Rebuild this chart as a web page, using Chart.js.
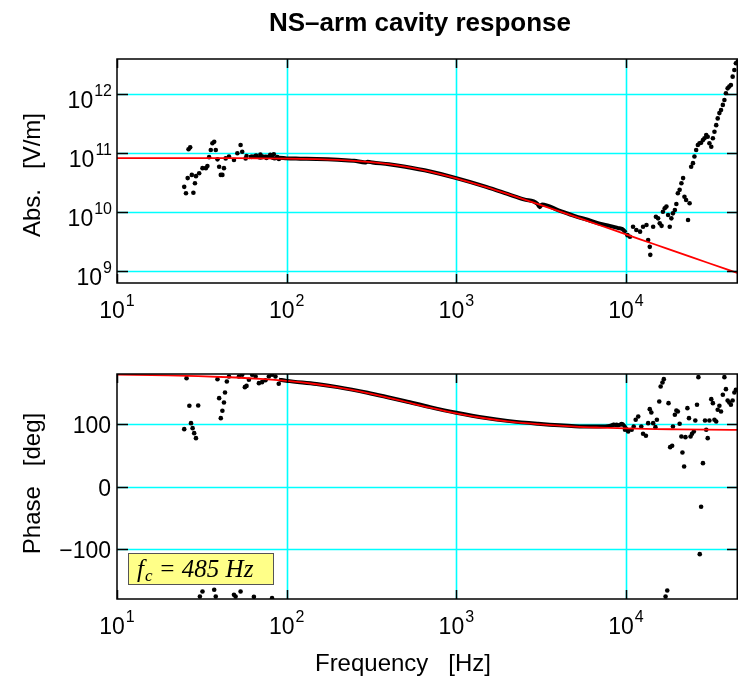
<!DOCTYPE html>
<html lang="en">
<head>
<meta charset="UTF-8">
<title>NS-arm cavity response</title>
<script src="https://cdn.jsdelivr.net/npm/chart.js"></script>
<style>
  body, html { margin: 0; padding: 0; width: 742px; height: 679px; overflow: hidden; background: #fff; }
  canvas { position: absolute; left: 0; }
  #absChart { top: 0; }
  #phaseChart { top: 335px; }
</style>
</head>
<body>
<canvas id="absChart" width="742" height="335"></canvas>
<canvas id="phaseChart" width="742" height="344"></canvas>
<script>
// fitted cavity pole (red)
const fitFreq  = [10, 20, 30, 50, 70, 100, 150, 200, 300, 400, 500, 700, 1000, 1500, 2000, 3000, 5000, 7000, 10000, 15000, 20000, 30000, 45700];
const fitAbs   = [8.3e10, 8.29e10, 8.28e10, 8.26e10, 8.22e10, 8.14e10, 7.96e10, 7.73e10, 7.15e10, 6.53e10, 5.93e10, 4.89e10, 3.77e10, 2.67e10, 2.05e10, 1.39e10, 8.43e9, 6.03e9, 4.23e9, 2.82e9, 2.12e9, 1.41e9, 9.3e8];
const fitPhase = [178.9, 177.8, 176.6, 174.4, 172.2, 168.9, 163.6, 158.6, 149.5, 141.9, 135.6, 126.1, 117.0, 108.8, 104.3, 99.8, 95.8, 94.2, 92.9, 91.9, 91.5, 91.0, 90.6];

// measured, dense part (looks like a thick black line)
const measFreq = [60, 65, 70, 75, 80, 85, 90, 100, 120, 150, 200, 250, 290, 300, 320, 400, 500, 700, 1000, 1500, 2000, 2500, 3000, 3100, 3200, 4000, 5000, 6000, 7000, 8000, 9000, 9500, 10000];
const measAbs  = [8.6e10, 8.9e10, 8.4e10, 8.8e10, 8.7e10, 8.2e10, 8.4e10, 8.2e10, 8.1e10, 8.0e10, 7.75e10, 7.45e10, 7.0e10, 7.2e10, 7.0e10, 6.5e10, 5.9e10, 4.9e10, 3.8e10, 2.7e10, 2.05e10, 1.65e10, 1.4e10, 1.22e10, 1.36e10, 1.08e10, 8.6e9, 7.4e9, 6.4e9, 5.9e9, 5.4e9, 5.2e9, 4.5e9];
const measPhaseFreq = [90, 100, 150, 200, 300, 400, 500, 700, 1000, 1500, 2000, 3000, 5000, 7000, 8000, 8500, 9000, 9500, 10000, 10500];
const measPhase     = [171, 169, 164, 159, 150, 142.5, 136.5, 127, 118, 109.5, 105, 100.5, 96.5, 96, 97, 99, 98, 100, 93, 89];

// measured, scattered points
const absDotFreq = [24.9, 25.5, 26.1, 26.4, 27.0, 27.6, 28.2, 28.8, 29.2, 30.5, 31.9, 33.4, 34.1, 34.9, 35.7, 36.5, 37.4, 38.2, 39.1, 40.0, 40.9, 41.8, 42.7, 43.7, 45.7, 48.9, 51.2, 53.5, 54.7, 57.3,
  58, 62, 66, 70, 72, 76, 80, 84, 88, 90,
  10200, 10550, 11000, 11500, 12100, 12600, 13200, 13500, 13800, 13900, 14450, 15000, 15450, 15800, 16200, 16500, 16900, 17300, 17700, 18100, 18500, 18900, 19400, 19800,
  20200, 20700, 21200, 21700, 22100, 22600, 23200, 23700, 24200, 24800, 25300, 25900, 26500, 27100, 27700, 28400, 29000, 29700, 30300, 31000, 31800, 32500, 33200, 34000,
  34700, 35500, 36300, 37200, 38000, 38800, 39700, 40600, 41500, 42500, 43500, 44400, 45500];
const absDotVals = [2.7e10, 2.1e10, 3.8e10, 1.17e11, 1.26e11, 4.3e10, 2.15e10, 3.1e10, 4.1e10, 4.6e10, 5.6e10, 5.6e10, 6.1e10, 8.6e10, 1.14e11, 1.48e11, 1.57e11, 1.14e11, 7.9e10, 5.9e10, 4.3e10, 4.3e10, 5.6e10, 8.2e10, 8.8e10, 7.7e10, 1.0e11, 1.38e11, 1.06e11, 8.2e10,
  9.0e10, 8.7e10, 9.2e10, 9.5e10, 8.8e10, 8.3e10, 9.4e10, 9.6e10, 8.6e10, 8.0e10,
  4.1e9, 3.86e9, 5.7e9, 5.0e9, 4.7e9, 5.7e9, 6.1e9, 3.4e9, 2.6e9, 1.9e9, 5.7e9, 8.4e9, 7.9e9, 6.5e9, 5.9e9, 1.02e10, 1.17e10, 1.25e10, 9.0e9, 5.7e9, 7.9e9, 9.6e9, 1.09e10, 1.38e10,
  2.1e10, 2.4e10, 3.1e10, 3.8e10, 1.84e10, 1.62e10, 7.4e9, 1.42e10, 5.9e10, 6.8e10, 8.8e10, 1.14e11, 1.38e11, 1.48e11, 1.51e11, 1.68e11, 1.8e11, 2.04e11, 1.91e11, 1.48e11, 1.29e11, 1.8e11, 2.32e11, 3.0e11,
  3.9e11, 4.8e11, 5.4e11, 6.6e11, 8.0e11, 1.04e12, 1.26e12, 1.35e12, 1.44e12, 1.99e12, 2.58e12, 3.35e12, 3.57e12];

const phaseDotFreq = [24.9, 25.7, 26.7, 27.3, 27.9, 28.5, 29.2, 30.1, 30.8, 31.9, 37.4, 38.2, 39.1, 40.0, 40.9, 41.8, 42.7, 43.3, 44.4, 45.7, 48.9, 50.0, 52.3, 53.5, 54.7, 56.7, 58.0, 59.9, 62.6, 64.1, 65.6, 68.6, 71.6, 75.0, 78.5, 82.0, 82.0, 85.9, 89.8,
  8430, 8810, 9420, 9860, 10300, 10800, 11100, 11400, 11800, 12300, 12600, 13100, 13500, 13800, 14100, 14450, 14900, 15200, 15700, 16000, 16400, 16700, 17100, 17500, 17800, 18200, 18700, 18900, 19400, 19800,
  20200, 20700, 21200, 21500, 22000, 22400, 23000, 23500, 24000, 24500, 25100, 25600, 26200, 26700, 27200, 27700, 28400, 29200, 29700, 30300, 31000, 31800, 32500, 33200, 34000, 34700, 35500,
  36300, 37200, 38000, 38800, 39700, 40600, 41500, 42500, 43500, 44400];
const phaseDotVals = [91.8, 173.4, 129.1, 101.4, 93.4, 85.4, 77.4, 129.6, -176, -168, -165.3, -176, 171.8, 141.4, 109.4, 121.1, 134.4, 150.4, 168, 176, -173.3, -176, 176, -168, 178.7, 159, 161, 170.7, 178.7, -176.5, 176, 165.4, 167, 170, 176, 178.7, -178.6, 176, 164.3,
  98.7, 98.7, 99.8, 90.7, 88, 90.7, 96, 106.7, 112, 96, 84.3, 81.1, 101.4, 123.8, 118.4, 101.4, 95, 106.7, 136, 160, 166.4, 171.8, -176, -166.4, 133.4, 63, 65.1, 96, 114.7, 121.6,
  120, 100.3, 80, 54.4, 32, 79, 125.4, 109.4, 80, 84.3, 88, 105.6, 130.7, 175, -108.2, -32.5, 37.4, 105.6, 90.7, 77.4, 105.6, 139.8, 133.4, 106.7, 104, 122.7,
  129.1, 120, 146.7, 175, 155.8, 137.6, 134.4, 130.7, 137.6, 150.4, 154.7];

const xTicks = [10, 100, 1000, 10000];
const xMin = 10, xMax = 45700;
const absTicks = [1e9, 1e10, 1e11, 1e12];
const absMin = 6.34e8, absMax = 3.96e12;
const phaseTicks = [-100, 0, 100];
const phaseMin = -180, phaseMax = 180;

const titleText = 'NS\u2013arm cavity response';
const absLabel = 'Abs.   [V/m]';
const phaseLabel = 'Phase   [deg]';
const freqLabel = 'Frequency   [Hz]';

const SANS = '"Liberation Sans", Arial, Helvetica, sans-serif';
const SERIF = '"Liberation Serif", "Times New Roman", serif';

const pts = (xs, ys) => xs.map((x, i) => ({ x: x, y: ys[i] }));

// "10" with a raised exponent
function drawPow(ctx, exp, x, y, align) {
    ctx.font = '23px ' + SANS;
    const wb = ctx.measureText('10').width;
    ctx.font = '16px ' + SANS;
    const we = ctx.measureText(exp).width;
    const left = align === 'center' ? x - (wb + we + 1) / 2 : x - wb - we - 1;
    ctx.textAlign = 'left';
    ctx.textBaseline = 'alphabetic';
    ctx.font = '23px ' + SANS;
    ctx.fillText('10', left, y);
    ctx.font = '16px ' + SANS;
    ctx.fillText(exp, left + wb + 1, y - 12);
}

function framePlugin(kind) {
    const yt = kind === 'abs' ? absTicks : phaseTicks;
    return {
        id: 'frame_' + kind,
        // cyan grid under the data
        beforeDatasetsDraw(chart) {
            const ctx = chart.ctx;
            const a = chart.chartArea;
            ctx.save();
            ctx.strokeStyle = '#00ffff';
            ctx.lineWidth = 1.6;
            ctx.beginPath();
            xTicks.forEach(v => {
                const px = Math.round(chart.scales.x.getPixelForValue(v)) + 0.5;
                if (px > a.left + 2 && px < a.right - 2) { ctx.moveTo(px, a.top); ctx.lineTo(px, a.bottom); }
            });
            yt.forEach(v => {
                const py = Math.round(chart.scales.y.getPixelForValue(v)) + 0.5;
                ctx.moveTo(a.left, py); ctx.lineTo(a.right, py);
            });
            ctx.stroke();
            ctx.restore();
        },
        afterDraw(chart) {
            const ctx = chart.ctx;
            const a = chart.chartArea;
            const xs = chart.scales.x, ys = chart.scales.y;
            ctx.save();
            ctx.fillStyle = '#000';
            ctx.strokeStyle = '#000';
            ctx.lineWidth = 1.5;
            ctx.strokeRect(a.left, a.top, a.right - a.left - 0.75, a.bottom - a.top);
            // inward ticks
            ctx.beginPath();
            xTicks.forEach(v => {
                const px = Math.round(xs.getPixelForValue(v)) + 0.5;
                ctx.moveTo(px, a.bottom); ctx.lineTo(px, a.bottom - 9);
                ctx.moveTo(px, a.top); ctx.lineTo(px, a.top + 9);
            });
            yt.forEach(v => {
                const py = Math.round(ys.getPixelForValue(v)) + 0.5;
                ctx.moveTo(a.left, py); ctx.lineTo(a.left + 11, py);
                ctx.moveTo(a.right, py); ctx.lineTo(a.right - 11, py);
            });
            ctx.stroke();

            // x tick labels
            xTicks.forEach(v => {
                drawPow(ctx, String(Math.round(Math.log10(v))), xs.getPixelForValue(v), a.bottom + 35, 'center');
            });
            // y tick labels
            if (kind === 'abs') {
                absTicks.forEach(v => {
                    drawPow(ctx, String(Math.round(Math.log10(v))), a.left - 5, ys.getPixelForValue(v) + 14, 'right');
                });
            } else {
                ctx.font = '23px ' + SANS;
                ctx.textAlign = 'right';
                ctx.textBaseline = 'alphabetic';
                phaseTicks.forEach(v => {
                    const t = v < 0 ? '\u2212' + Math.abs(v) : String(v);
                    ctx.fillText(t, a.left - 6, ys.getPixelForValue(v) + 9);
                });
            }

            // axis titles
            ctx.font = '24px ' + SANS;
            ctx.textAlign = 'center';
            ctx.textBaseline = 'middle';
            ctx.save();
            ctx.translate(33, (a.top + a.bottom) / 2 + (kind === 'abs' ? 4 : -3));
            ctx.rotate(-Math.PI / 2);
            ctx.fillText(kind === 'abs' ? absLabel : phaseLabel, 0, 0);
            ctx.restore();

            if (kind === 'abs') {
                ctx.font = 'bold 26px ' + SANS;
                ctx.textBaseline = 'alphabetic';
                ctx.fillText(titleText, 420, 31);
            } else {
                ctx.textBaseline = 'alphabetic';
                ctx.fillText(freqLabel, 403, a.bottom + 72);

                // f_c annotation box
                const bx = a.left + 11, by = a.bottom - 46, bw = 145, bh = 31;
                ctx.fillStyle = '#ffff88';
                ctx.fillRect(bx, by, bw, bh);
                ctx.strokeStyle = '#555';
                ctx.lineWidth = 1;
                ctx.strokeRect(bx + 0.5, by + 0.5, bw, bh);
                ctx.fillStyle = '#000';
                ctx.textAlign = 'left';
                let tx = bx + 9;
                const base = by + 24;
                ctx.font = 'italic 25px ' + SERIF;
                ctx.fillText('f', tx, base);
                tx += ctx.measureText('f').width + 1;
                ctx.font = 'italic 17px ' + SERIF;
                ctx.fillText('c', tx, base + 4);
                tx += ctx.measureText('c').width;
                ctx.font = 'italic 25px ' + SERIF;
                ctx.fillText(' = 485 Hz', tx, base);
            }
            ctx.restore();
        }
    };
}

function baseOptions(yScale, padTop, xHeight) {
    return {
        responsive: false,
        maintainAspectRatio: false,
        animation: false,
        events: [],
        layout: { padding: { top: padTop, left: 0, right: 0, bottom: 0 } },
        plugins: { legend: { display: false }, tooltip: { enabled: false }, title: { display: false } },
        scales: {
            x: {
                type: 'logarithmic', min: xMin, max: xMax,
                afterBuildTicks: s => { s.ticks = xTicks.map(v => ({ value: v })); },
                afterFit: s => { s.height = xHeight; },
                ticks: { display: false },
                grid: { display: false },
                border: { display: false }
            },
            y: yScale
        }
    };
}

const lineDs = (data, color, width, order) => ({
    data: data, showLine: true, borderColor: color, borderWidth: width,
    pointRadius: 0, cubicInterpolationMode: 'monotone', order: order
});
const dotDs = (data, order) => ({
    data: data, showLine: false, pointRadius: 2.3, pointBorderWidth: 0,
    backgroundColor: '#000', borderColor: '#000', order: order
});

new Chart(document.getElementById('absChart'), {
    type: 'scatter',
    data: {
        datasets: [
            lineDs(pts(fitFreq, fitAbs), '#ff0000', 1.8, 0),
            lineDs(pts(measFreq, measAbs), '#000', 4, 1),
            dotDs(pts(absDotFreq, absDotVals), 2)
        ]
    },
    options: baseOptions({
        type: 'logarithmic', min: absMin, max: absMax,
        afterBuildTicks: s => { s.ticks = absTicks.map(v => ({ value: v })); },
        afterFit: s => { s.width = 117; },
        ticks: { display: false },
        grid: { display: false },
        border: { display: false }
    }, 59, 52),
    plugins: [framePlugin('abs')]
});

new Chart(document.getElementById('phaseChart'), {
    type: 'scatter',
    data: {
        datasets: [
            lineDs(pts(fitFreq, fitPhase), '#ff0000', 1.8, 0),
            lineDs(pts(measPhaseFreq, measPhase), '#000', 4, 1),
            dotDs(pts(phaseDotFreq, phaseDotVals), 2)
        ]
    },
    options: baseOptions({
        type: 'linear', min: phaseMin, max: phaseMax,
        afterBuildTicks: s => { s.ticks = phaseTicks.map(v => ({ value: v })); },
        afterFit: s => { s.width = 117; },
        ticks: { display: false },
        grid: { display: false },
        border: { display: false }
    }, 39, 80),
    plugins: [framePlugin('phase')]
});
</script>
</body>
</html>
